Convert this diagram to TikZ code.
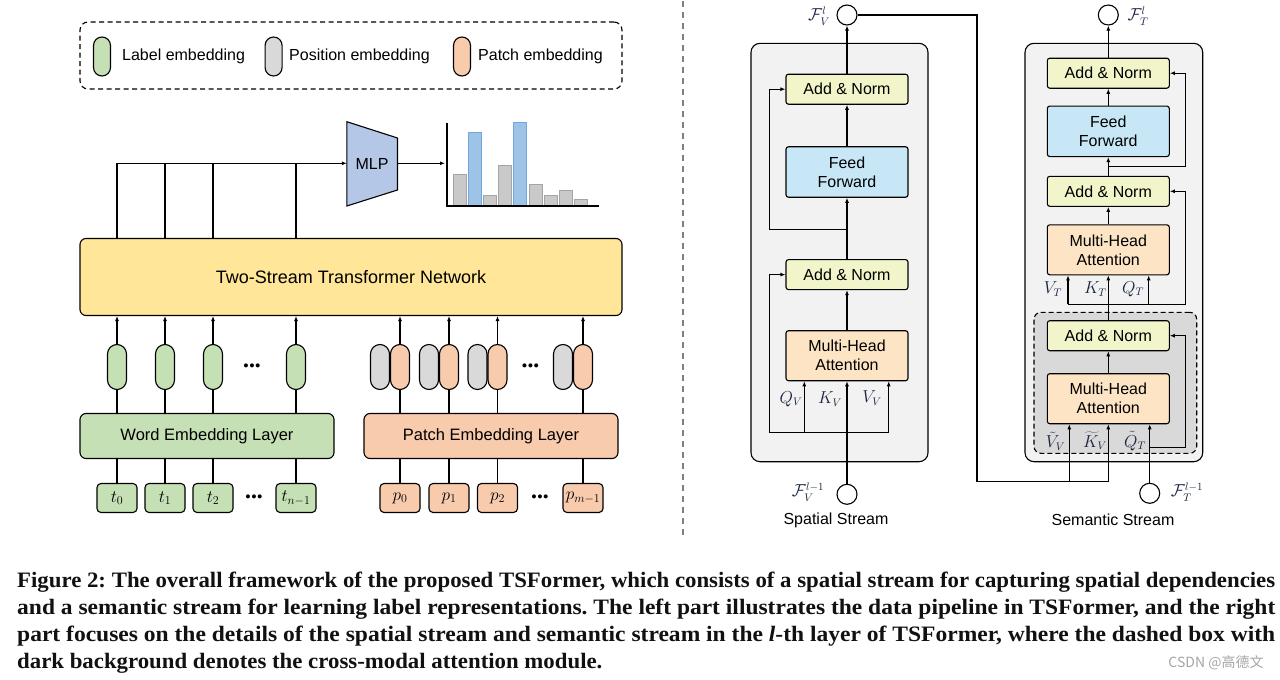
\documentclass[tikz,border=0pt]{standalone}
\usepackage{fontspec}
\setmainfont{Liberation Sans}
\newfontfamily\capfont{Liberation Serif}
\newfontfamily\cjkfont{Noto Sans CJK SC}
\usetikzlibrary{arrows.meta,calc}
\definecolor{greenfill}{HTML}{C5E0B4}
\definecolor{grayfill}{HTML}{D9D9D9}
\definecolor{orangefill}{HTML}{F8CBAD}
\definecolor{tsyellow}{HTML}{FFE699}
\definecolor{mlpblue}{HTML}{B4C7E7}
\definecolor{bargray}{HTML}{C9C9C9}
\definecolor{bargrayd}{HTML}{A5A5A5}
\definecolor{barblue}{HTML}{9DC3E6}
\definecolor{barblued}{HTML}{6FA8DC}
\definecolor{anfill}{HTML}{F2F5C9}
\definecolor{fffill}{HTML}{C7E7F6}
\definecolor{mhafill}{HTML}{FDE4C5}
\definecolor{streamfill}{HTML}{F2F2F2}
\definecolor{crossfill}{HTML}{D9D9D9}
\definecolor{mathblue}{HTML}{1A2442}
\definecolor{sepgray}{HTML}{808080}
\definecolor{captext}{HTML}{111111}
\newcommand{\fsA}{\fontsize{16}{19}\selectfont}
\newcommand{\fsB}{\fontsize{16.5}{19}\selectfont}
\newcommand{\fsC}{\fontsize{18}{21}\selectfont}
\newcommand{\fsM}{\fontsize{16}{18}\selectfont}
\newcommand{\capsz}{\capfont\bfseries\fontsize{22}{26}\selectfont\frenchspacing}
\newcommand{\bdots}{\textbf{\textbullet\hspace{1pt}\textbullet\hspace{1pt}\textbullet}}
\newcommand{\capA}{Figure 2: The overall framework of the proposed TSFormer, which consists of a spatial stream for capturing spatial dependencies}
\newsavebox{\capbox}
\newlength{\capw}
\tikzset{
  ln/.style={line width=1.1pt, draw=black},
  arr/.style={ln, -{Latex[length=5pt,width=4pt]}},
  capsule/.style={draw, line width=1.1pt, rounded corners=9.5pt, minimum width=19pt, minimum height=45pt, inner sep=0pt},
  legcap/.style={draw, line width=1.1pt, rounded corners=8.5pt, minimum width=17pt, minimum height=39pt, inner sep=0pt},
  token/.style={draw, line width=1.1pt, rounded corners=4pt, minimum width=40pt, minimum height=29pt, inner sep=0pt, font=\fontsize{17}{19}\selectfont},
  embbox/.style={draw, line width=1.1pt, rounded corners=6pt, minimum width=254pt, minimum height=45pt, inner sep=0pt, font=\fsB},
  blk/.style={draw, line width=1.1pt, rounded corners=2.5pt, minimum width=122pt, inner sep=0pt, font=\fsA, align=center},
  anbox/.style={blk, fill=anfill, minimum height=30pt},
  ffbox/.style={blk, fill=fffill, minimum height=50.5pt},
  mhabox/.style={blk, fill=mhafill, minimum height=50pt},
  outer/.style={draw, line width=1.1pt, fill=streamfill, rounded corners=9pt, inner sep=0pt},
  port/.style={draw, line width=1.1pt, fill=white, circle, minimum size=20pt, inner sep=0pt},
  mlab/.style={text=mathblue, inner sep=0pt, font=\fsM},
  ellip/.style={inner sep=0pt, font=\fontsize{14}{14}\selectfont},
  capline/.style={anchor=west, inner sep=0pt, text=captext, font=\capsz}
}
\begin{document}
\sbox{\capbox}{\capsz\capA}%
\setlength{\capw}{\wd\capbox}%
\pgfmathsetmacro{\capf}{1258/\capw}%
\begin{tikzpicture}[x=1pt,y=-1pt]
\useasboundingbox (0,0) rectangle (1280,680);
\fill[white] (0,0) rectangle (1280,680);

% ---------------- Legend ----------------
\node[draw, line width=1.1pt, dash pattern=on 5pt off 3.5pt, rounded corners=8pt, minimum width=542pt, minimum height=67pt, inner sep=0pt] (legend) at (351,55.5) {};
\node[legcap, fill=greenfill] (lg1) at (102,56.5) {};
\node[legcap, fill=grayfill] (lg2) at (273.6,56.5) {};
\node[legcap, fill=orangefill] (lg3) at (462,56.5) {};
\node[anchor=west, inner sep=0pt, font=\fsA] (lt1) at (122,56) {Label embedding};
\node[anchor=west, inner sep=0pt, font=\fsA] (lt2) at (289,56) {Position embedding};
\node[anchor=west, inner sep=0pt, font=\fsA] (lt3) at (478,56) {Patch embedding};

% ---------------- MLP and chart ----------------
\filldraw[fill=mlpblue, line width=1.1pt, line join=miter] (346.8,121.7) -- (397.5,138) -- (397.5,190) -- (346.8,206) -- cycle;
\node[inner sep=0pt, font=\fsA] (mlp) at (372,164) {MLP};
\coordinate (mlpL) at (346.8,163.3);
\coordinate (mlpR) at (397.5,163.3);
\coordinate (chartL) at (445,163.3);
\draw[arr] (mlpR) -- (chartL);
\filldraw[fill=bargray, draw=bargrayd, line width=0.8pt] (453,206) rectangle (466,174);
\filldraw[fill=barblue, draw=barblued, line width=0.8pt] (468,206) rectangle (481,132.3);
\filldraw[fill=bargray, draw=bargrayd, line width=0.8pt] (483.2,206) rectangle (496.2,195);
\filldraw[fill=bargray, draw=bargrayd, line width=0.8pt] (498.2,206) rectangle (511.2,165.7);
\filldraw[fill=barblue, draw=barblued, line width=0.8pt] (513.6,206) rectangle (526.6,122.5);
\filldraw[fill=bargray, draw=bargrayd, line width=0.8pt] (528.9,206) rectangle (541.9,184.3);
\filldraw[fill=bargray, draw=bargrayd, line width=0.8pt] (543.9,206) rectangle (556.9,195);
\filldraw[fill=bargray, draw=bargrayd, line width=0.8pt] (559,206) rectangle (572,190.7);
\filldraw[fill=bargray, draw=bargrayd, line width=0.8pt] (574.3,206) rectangle (587.3,199);
\draw[line width=1.4pt] (447,122.7) -- (447,206) -- (598.6,206);

% ---------------- Two-stream box ----------------
\node[draw, line width=1.1pt, fill=tsyellow, rounded corners=6pt, minimum width=542pt, minimum height=77pt, inner sep=0pt, font=\fsC] (ts) at (351,277) {Two-Stream Transformer Network};

% capsules
\node[capsule, fill=greenfill] (g1) at (117,367) {};
\node[capsule, fill=greenfill] (g2) at (165,367) {};
\node[capsule, fill=greenfill] (g3) at (213,367) {};
\node[capsule, fill=greenfill] (g4) at (296,367) {};
\node[capsule, fill=grayfill] (q1) at (380,367) {};
\node[capsule, fill=orangefill] (o1) at (400,367) {};
\node[capsule, fill=grayfill] (q2) at (429,367) {};
\node[capsule, fill=orangefill] (o2) at (449,367) {};
\node[capsule, fill=grayfill] (q3) at (477.5,367) {};
\node[capsule, fill=orangefill] (o3) at (497.5,367) {};
\node[capsule, fill=grayfill] (q4) at (563,367) {};
\node[capsule, fill=orangefill] (o4) at (583,367) {};
\node[ellip] (d1) at (252,367) {\bdots};
\node[ellip] (d2) at (530.5,367) {\bdots};

% embedding layers
\node[embbox, fill=greenfill] (web) at (207,436) {Word Embedding Layer};
\node[embbox, fill=orangefill] (peb) at (491,436) {Patch Embedding Layer};

% tokens
\node[token, fill=greenfill] (t1) at (117,498) {$t_0$};
\node[token, fill=greenfill] (t2) at (165,498) {$t_1$};
\node[token, fill=greenfill] (t3) at (213,498) {$t_2$};
\node[token, fill=greenfill] (t4) at (296,498) {$t_{n-1}$};
\node[token, fill=orangefill] (p1) at (400,498) {$p_0$};
\node[token, fill=orangefill] (p2) at (449,498) {$p_1$};
\node[token, fill=orangefill] (p3) at (497.5,498) {$p_2$};
\node[token, fill=orangefill] (p4) at (583,498) {$p_{m-1}$};
\node[ellip] (d3) at (254,498) {\bdots};
\node[ellip] (d4) at (540,498) {\bdots};

% connectors left
\draw[arr] (ts.north -| g1) |- (mlpL);
\foreach \g in {g2,g3,g4}{ \draw[ln] (ts.north -| \g) -- (\g |- mlpL); }
\foreach \g in {g1,g2,g3,g4,o1,o2,o3,o4}{ \draw[arr] (\g.north) -- (ts.south -| \g); }
\foreach \g in {g1,g2,g3,g4}{ \draw[ln] (web.north -| \g) -- (\g.south); }
\foreach \g in {o1,o2,o3,o4}{ \draw[ln] (peb.north -| \g) -- (\g.south); }
\foreach \t in {t1,t2,t3,t4}{ \draw[ln] (\t.north) -- (web.south -| \t); }
\foreach \t in {p1,p2,p3,p4}{ \draw[ln] (\t.north) -- (peb.south -| \t); }

% separator
\draw[sepgray, line width=2pt, dash pattern=on 6pt off 5pt] (683,1) -- (683,535);

% ---------------- Spatial stream ----------------
\node[outer, minimum width=177pt, minimum height=418.4pt] (sout) at (839.5,252.5) {};
\node[anbox] (an1) at (847,89.2) {Add \& Norm};
\node[ffbox] (ff1) at (847,172) {Feed\\Forward};
\node[anbox] (an2) at (847,274.6) {Add \& Norm};
\node[mhabox] (mha1) at (847,355.7) {Multi-Head\\Attention};
\node[port] (Fvl) at (847,15) {};
\node[port] (Fvl1) at (847,494.3) {};
\node[mlab] (Fvllab) at (819,16) {$\mathcal{F}_V^{l}$};
\node[mlab] (Fvl1lab) at (808,492) {$\mathcal{F}_V^{l-1}$};
\node[inner sep=0pt, font=\fsA] (sstitle) at (836,520) {Spatial Stream};
\node[mlab] (lqv) at (791,399) {$Q_V$};
\node[mlab] (lkv) at (830,399) {$K_V$};
\node[mlab] (lvv) at (872,398) {$V_V$};

\coordinate (s1) at (847,229.3);
\coordinate (qv) at (804.3,432.3);
\coordinate (vv) at (888.7,432.3);
\draw[arr] (Fvl1.north) -- (mha1.south);
\draw[arr] (mha1.north) -- (an2.south);
\draw[arr] (an2.north) -- (ff1.south);
\draw[arr] (ff1.north) -- (an1.south);
\draw[arr] (an1.north) -- (Fvl.south);
\draw[arr] (s1) -| ([xshift=-16pt]an1.west) -- (an1.west);
\draw[arr] (qv) -- (qv |- mha1.south);
\draw[arr] (vv) -- (vv |- mha1.south);
\draw[arr] (vv) -| ([xshift=-16pt]an2.west) -- (an2.west);

% ---------------- Semantic stream ----------------
\node[outer, minimum width=177.7pt, minimum height=418.4pt] (tout) at (1113.85,252.5) {};
\node[draw, line width=1.1pt, dash pattern=on 5pt off 3pt, fill=crossfill, rounded corners=7pt, minimum width=162.7pt, minimum height=141pt, inner sep=0pt] (cross) at (1115.35,382.8) {};
\node[anbox] (b1) at (1108.3,73.2) {Add \& Norm};
\node[ffbox] (ff2) at (1108.3,131.3) {Feed\\Forward};
\node[anbox] (b2) at (1108.3,191.3) {Add \& Norm};
\node[mhabox] (mha2) at (1108.3,249.8) {Multi-Head\\Attention};
\node[anbox] (b3) at (1108.3,335.7) {Add \& Norm};
\node[mhabox] (mha3) at (1108.3,398.7) {Multi-Head\\Attention};
\node[port] (FTl) at (1108.3,15) {};
\node[port] (FTl1) at (1149.7,493.3) {};
\node[mlab] (FTllab) at (1138,16) {$\mathcal{F}_T^{l}$};
\node[mlab] (FTl1lab) at (1187,492) {$\mathcal{F}_T^{l-1}$};
\node[inner sep=0pt, font=\fsA] (tstitle) at (1113,520) {Semantic Stream};
\node[mlab] (lvt) at (1053,289) {$V_T$};
\node[mlab] (lkt) at (1095.5,289) {$K_T$};
\node[mlab] (lqt) at (1133,289) {$Q_T$};
\node[mlab] (lvv2) at (1055.5,441) {$\tilde{V}_V$};
\node[mlab] (lkv2) at (1095,441) {$\widetilde{K}_V$};
\node[mlab] (lqt2) at (1135,441) {$\tilde{Q}_T$};

\coordinate (t1c) at (1108.3,166.7);
\coordinate (vt) at (1068,304.3);
\coordinate (qt) at (1148.7,304.3);
\coordinate (q3c) at (1149.7,447.3);
\coordinate (cornerA) at (977,481.7);
\coordinate (vvt) at (1069.3,481.7);
\coordinate (kvt) at (1108.3,481.7);
\draw[arr] (b1.north) -- (FTl.south);
\draw[arr] (ff2.north) -- (b1.south);
\draw[arr] (b2.north) -- (ff2.south);
\draw[arr] (t1c) -| ([xshift=16pt]b1.east) -- (b1.east);
\draw[arr] (mha2.north) -- (b2.south);
\draw[arr] (b3.north) -- (mha2.south);
\draw[arr] (vt) -- (vt |- mha2.south);
\draw[arr] (qt) -- (qt |- mha2.south);
\draw[arr] (vt) -| ([xshift=16pt]b2.east) -- (b2.east);
\draw[arr] (mha3.north) -- (b3.south);
\draw[arr] (FTl1.north) -- (FTl1.north |- mha3.south);
\draw[arr] (q3c) -| ([xshift=16pt]b3.east) -- (b3.east);
\draw[ln] (Fvl.east) -| (cornerA) -- (kvt);
\draw[arr] (vvt) -- (vvt |- mha3.south);
\draw[arr] (kvt) -- (mha3.south);

% ---------------- Caption ----------------
\node[capline] (cap1) at (17,582) {\resizebox{1258pt}{\height}{\capA}};
\node[capline] (cap2) at (17,609) {\resizebox{1258pt}{\height}{and a semantic stream for learning label representations. The left part illustrates the data pipeline in TSFormer, and the right}};
\node[capline] (cap3) at (17,636) {\resizebox{1258pt}{\height}{part focuses on the details of the spatial stream and semantic stream in the \textit{l}-th layer of TSFormer, where the dashed box with}};
\node[capline] (cap4) at (17,663) {\scalebox{\capf}[1]{dark background denotes the cross-modal attention module.}};
\node[inner sep=0pt, text=black!35, font=\cjkfont\fontsize{14}{16}\selectfont] (wm) at (1216,663) {CSDN @高德文};
\end{tikzpicture}
\end{document}
